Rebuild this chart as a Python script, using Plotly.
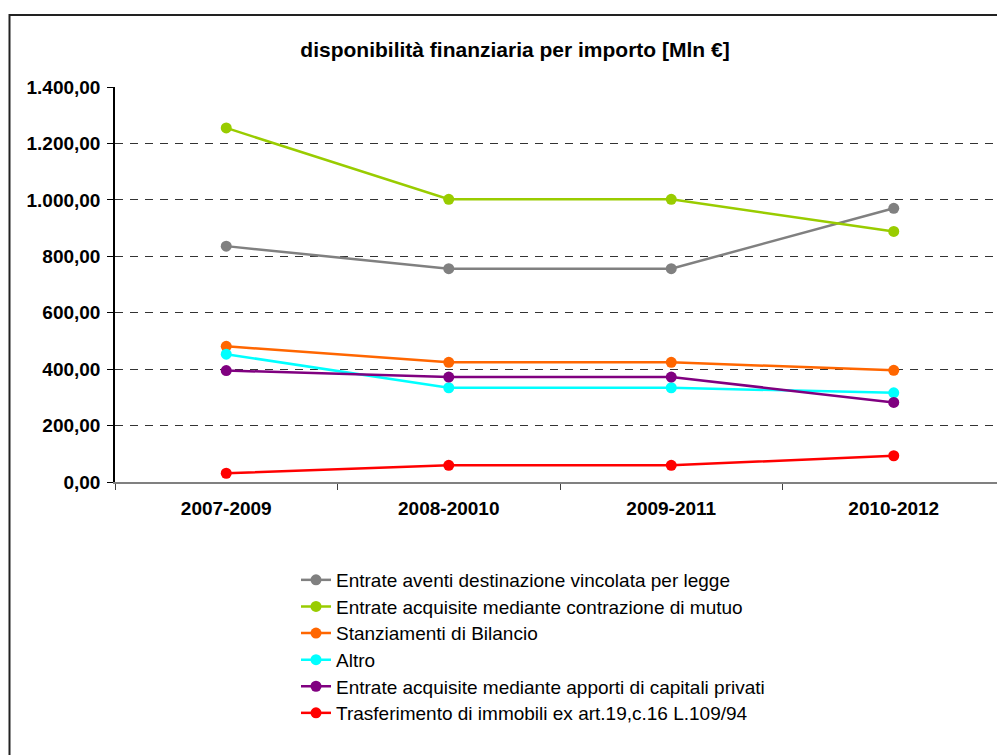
import plotly.graph_objects as go

periodi = ["2007-2009", "2008-20010", "2009-2011", "2010-2012"]

serie_nomi = [
    "Entrate aventi destinazione vincolata per legge",
    "Entrate acquisite mediante contrazione di mutuo",
    "Stanziamenti di Bilancio",
    "Altro",
    "Entrate acquisite mediante apporti di capitali privati",
    "Trasferimento di immobili ex art.19,c.16 L.109/94",
]
vincolata = [836, 756, 756, 970]
mutuo = [1255, 1002, 1002, 888]
bilancio = [481, 424, 424, 396]
altro = [453, 334, 334, 316]
privati = [395, 372, 372, 282]
immobili = [31, 59, 59, 93]
colori = ["#808080", "#99CC00", "#FF6600", "#00FFFF", "#800080", "#FF0000"]

# la pagina html ha un margine di 8px: coordinate della figura = pagina - 8
OFF = 8
W, H = 1005 - OFF, 755 - OFF
L, R, T = 115 - OFF, 0, 87 - OFF
B = H - (482 - OFF)
pw, ph = W - L - R, H - T - B

def px(x):
    return (x - OFF - L) / pw

def py(y):
    return (H - B - (y - OFF)) / ph

fig = go.Figure()
legende = {}
for i, (nome, vals) in enumerate(zip(serie_nomi, [vincolata, mutuo, bilancio, altro, privati, immobili])):
    leg = "legend" if i == 0 else "legend%d" % (i + 1)
    fig.add_trace(go.Scatter(
        x=periodi, y=vals, name=nome, mode="lines+markers",
        line=dict(color=colori[i], width=2.5),
        marker=dict(color=colori[i], size=11),
        legend=leg,
    ))
    # una legenda per voce, per avere la stessa spaziatura del riferimento
    legende[leg] = dict(x=px(296), y=py(580 + i * 26.6), xanchor="left", yanchor="middle",
                        font=dict(size=19), bgcolor="rgba(0,0,0,0)")

# cornice del grafico
fig.add_shape(type="rect", xref="paper", yref="paper",
              x0=px(9.5), x1=px(1030), y0=py(790), y1=py(15),
              line=dict(color="#222222", width=2), layer="below")

fig.update_layout(
    width=W, height=H,
    margin=dict(l=L, r=R, t=T, b=B),
    paper_bgcolor="white", plot_bgcolor="white",
    separators=",.",
    font=dict(family="Arial, Liberation Sans, sans-serif", color="black"),
    title=dict(text="<b>disponibilità finanziaria per importo [Mln €]</b>",
               xref="container", x=(515 - OFF) / W, xanchor="center",
               y=1 - (50 - OFF) / H, yanchor="middle",
               font=dict(size=21)),
    showlegend=True,
    **legende,
)
fig.update_xaxes(
    type="category", range=[-0.5, 3.5],
    showline=True, linecolor="#808080", linewidth=2,
    ticks="outside", tickson="boundaries", ticklen=6, tickcolor="#404040",
    showgrid=False,
    tickfont=dict(size=19), ticklabelstandoff=8,
    tickprefix="<b>", ticksuffix="</b>",
)
fig.update_yaxes(
    range=[0, 1400], dtick=200, tickformat=",.2f",
    showline=True, linecolor="black", linewidth=1.5,
    ticks="outside", ticklen=6, tickcolor="black",
    showgrid=True, gridcolor="#333333", gridwidth=1, griddash="8px,7px",
    zeroline=False,
    tickfont=dict(size=19), ticklabelstandoff=3,
    tickprefix="<b>", ticksuffix="</b>",
)

fig.write_html("out.html")
